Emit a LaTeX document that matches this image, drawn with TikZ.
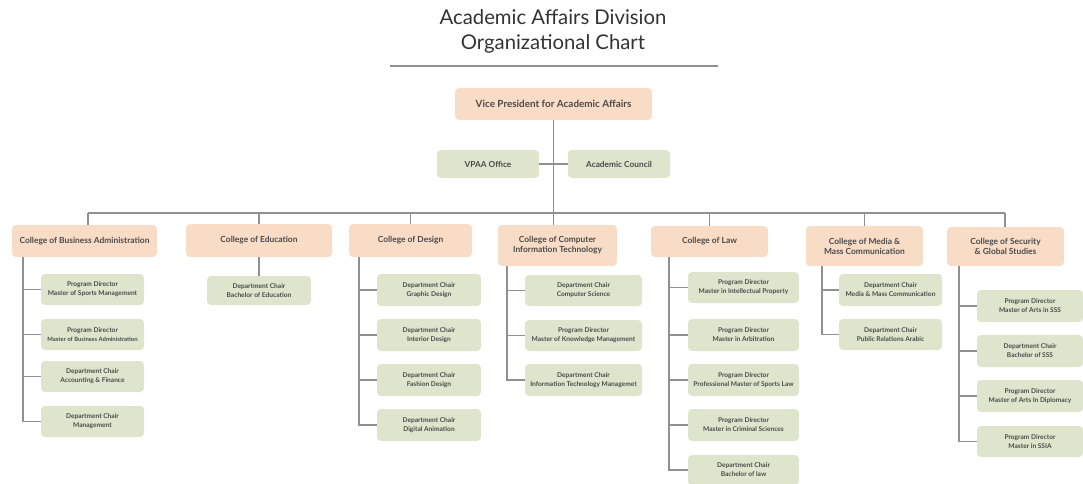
\documentclass[tikz,border=0pt]{standalone}
\usepackage{fontspec}
\setmainfont{Lato}
\definecolor{peach}{HTML}{F9DCC6}
\definecolor{sage}{HTML}{DFE5CD}
\definecolor{linec}{HTML}{8F9092}
\definecolor{txt}{HTML}{4A4A4A}
\definecolor{ttl}{HTML}{333333}
\newcommand{\bx}[7]{\node[#6, minimum width={#4-#2}, minimum height={#5-#3}] (#1) at ({(#2+#4)/2},{(#3+#5)/2}) {#7};}
\tikzset{
  box/.style={rounded corners=4pt, draw=none, align=center, inner sep=0pt, text=txt},
  topbox/.style={box, fill=peach, font=\bfseries\fontsize{9.9}{11}\selectfont},
  colbox/.style={box, fill=peach, font=\bfseries\fontsize{8.4}{10}\selectfont},
  midbox/.style={box, fill=sage, font=\bfseries\fontsize{8.3}{10}\selectfont},
  kid/.style={box, fill=sage, font=\bfseries\fontsize{6.6}{9}\selectfont},
  conn/.style={draw=linec, line width=1.1pt},
}
\begin{document}
\begin{tikzpicture}[x=1pt,y=-1pt]
\useasboundingbox (0,0) rectangle (1083,484);
\clip (0,0) rectangle (1083,484);
% title
\node[font=\fontsize{20.3}{25}\selectfont, text=ttl, align=center] (title) at (553,31) {Academic Affairs Division\\Organizational Chart};
\coordinate (ruleL) at (390,66);
\coordinate (ruleR) at (718,66);
\draw[draw=linec, line width=1.2pt] (ruleL) -- (ruleR);
% top
\bx{vp}{455}{88}{652}{120}{topbox}{Vice President for Academic Affairs}
\bx{office}{437}{150}{539}{178}{midbox}{VPAA Office}
\bx{council}{568}{150}{670}{178}{midbox}{Academic Council}
% colleges
\bx{cba}{12}{225}{157}{257}{colbox}{College of Business Administration}
\bx{ced}{186}{224}{332}{257}{colbox}{College of Education}
\bx{cde}{349}{224}{472}{257}{colbox}{College of Design}
\bx{cit}{498}{225}{617}{266}{colbox}{College of Computer\\Information Technology}
\bx{claw}{651}{226}{768}{257}{colbox}{College of Law}
\bx{cmm}{806}{226}{923}{266}{colbox}{College of Media \&\\Mass Communication}
\bx{css}{947}{227}{1064}{266}{colbox}{College of Security\\\& Global Studies}
% business children
\bx{cba1}{41}{274}{144}{305}{kid}{Program Director\\Master of Sports Management}
\bx{cba2}{41}{319}{144}{350}{kid}{Program Director\\{\fontsize{5.9}{9}\selectfont Master of Business Administration}}
\bx{cba3}{41}{361}{144}{392}{kid}{Department Chair\\Accounting \& Finance}
\bx{cba4}{41}{406}{144}{437}{kid}{Department Chair\\Management}
% education
\bx{ced1}{207}{276}{311}{305}{kid}{Department Chair\\Bachelor of Education}
% design
\bx{cde1}{377}{274}{481}{306}{kid}{Department Chair\\Graphic Design}
\bx{cde2}{377}{319}{481}{351}{kid}{Department Chair\\Interior Design}
\bx{cde3}{377}{364}{481}{396}{kid}{Department Chair\\Fashion Design}
\bx{cde4}{377}{409}{481}{441}{kid}{Department Chair\\Digital Animation}
% cit
\bx{cit1}{525}{275}{642}{306}{kid}{Department Chair\\Computer Science}
\bx{cit2}{525}{320}{642}{351}{kid}{Program Director\\Master of Knowledge Management}
\bx{cit3}{525}{364}{642}{396}{kid}{Department Chair\\Information Technology Managemet}
% law
\bx{law1}{688}{272}{799}{303}{kid}{Program Director\\Master in Intellectual Property}
\bx{law2}{688}{319}{799}{351}{kid}{Program Director\\Master in Arbitration}
\bx{law3}{688}{364}{799}{396}{kid}{Program Director\\Professional Master of Sports Law}
\bx{law4}{688}{409}{799}{441}{kid}{Program Director\\Master in Criminal Sciences}
\bx{law5}{688}{455}{799}{485}{kid}{Department Chair\\Bachelor of law}
% media
\bx{cmm1}{839}{274}{942}{306}{kid}{Department Chair\\Media \& Mass Communication}
\bx{cmm2}{839}{319}{942}{350}{kid}{Department Chair\\Public Relations Arabic}
% security
\bx{css1}{977}{290}{1083}{322}{kid}{Program Director\\Master of Arts in SSS}
\bx{css2}{977}{335}{1083}{367}{kid}{Department Chair\\Bachelor of SSS}
\bx{css3}{977}{380}{1083}{412}{kid}{Program Director\\Master of Arts In Diplomacy}
\bx{css4}{977}{426}{1083}{457}{kid}{Program Director\\Master in SSIA}
% connectors: trunk and bus
\coordinate (busL) at (88,213);
\coordinate (busR) at (1005,213);
\draw[conn] (vp.south) -- (vp.south |- cit.north);
\draw[conn] (office.east) -- (council.west);
\draw[conn] (busL) -- (busR);
\draw[conn] (busL) -- (busL |- cba.north);
\draw[conn] (busR) -- (busR |- css.north);
\draw[conn] (ced.north |- busL) -- (ced.north);
\draw[conn] (cde.north |- busL) -- (cde.north);
\draw[conn] (claw.north |- busL) -- (claw.north);
\draw[conn] (cmm.north |- busL) -- (cmm.north);
% education
\draw[conn] (ced.south) -- (ced1.north);
% spines
\coordinate (sA) at (23,0);
\coordinate (sB) at (359,0);
\coordinate (sC) at (507,0);
\coordinate (sD) at (669,0);
\coordinate (sE) at (822,0);
\coordinate (sF) at (959,0);
\draw[conn] (sA |- cba.south) |- (cba4.west);
\foreach \n in {cba1,cba2,cba3} \draw[conn] (sA |- \n.west) -- (\n.west);
\draw[conn] (sB |- cde.south) |- (cde4.west);
\foreach \n in {cde1,cde2,cde3} \draw[conn] (sB |- \n.west) -- (\n.west);
\draw[conn] (sC |- cit.south) |- (cit3.west);
\foreach \n in {cit1,cit2} \draw[conn] (sC |- \n.west) -- (\n.west);
\draw[conn] (sD |- claw.south) |- (law5.west);
\foreach \n in {law1,law2,law3,law4} \draw[conn] (sD |- \n.west) -- (\n.west);
\draw[conn] (sE |- cmm.south) |- (cmm2.west);
\draw[conn] (sE |- cmm1.west) -- (cmm1.west);
\draw[conn] (sF |- css.south) |- (css4.west);
\foreach \n in {css1,css2,css3} \draw[conn] (sF |- \n.west) -- (\n.west);
\end{tikzpicture}
\end{document}
